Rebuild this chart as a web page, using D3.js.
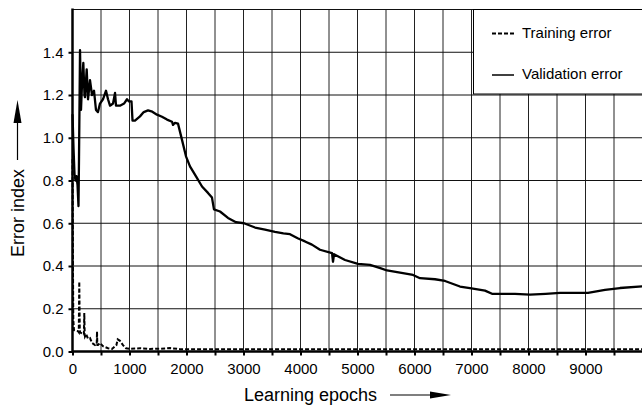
<!DOCTYPE html>
<html>
<head>
<meta charset="utf-8">
<script src="https://cdn.jsdelivr.net/npm/d3@7"></script>
<style>
  body { margin: 0; background: #fff; }
  svg { display: block; font-family: "Liberation Sans", Arial, sans-serif; }
</style>
</head>
<body>
<div class="chart"></div>
<script>
"use strict";

// validation error (solid line)
var valEpochs = [0, 18, 35, 53, 70, 88, 105, 114, 132, 149, 167, 190, 210, 219, 249, 272, 307, 342, 377, 412, 447, 482, 535, 588, 623, 658, 711, 746, 763, 833, 904, 956, 991, 1035, 1053, 1096, 1184, 1250, 1325, 1400, 1482, 1570, 1658, 1746, 1763, 1798, 1851, 1921, 1991, 2061, 2167, 2272, 2377, 2447, 2482, 2588, 2728, 2868, 3009, 3202, 3377, 3553, 3700, 3816, 3950, 4079, 4200, 4342, 4553, 4570, 4588, 4781, 5009, 5219, 5400, 5518, 5746, 5974, 6097, 6360, 6535, 6798, 7000, 7237, 7360, 7763, 8026, 8300, 8553, 9044, 9342, 9605, 10000];
var valError = [1.11, 0.95, 0.83, 0.80, 0.82, 0.78, 0.68, 0.90, 1.41, 1.13, 1.25, 1.35, 1.20, 1.19, 1.32, 1.18, 1.27, 1.20, 1.22, 1.13, 1.12, 1.16, 1.18, 1.22, 1.18, 1.15, 1.16, 1.21, 1.15, 1.15, 1.16, 1.18, 1.17, 1.17, 1.08, 1.08, 1.10, 1.12, 1.128, 1.122, 1.108, 1.098, 1.085, 1.075, 1.06, 1.07, 1.066, 0.99, 0.913, 0.866, 0.819, 0.772, 0.742, 0.72, 0.665, 0.655, 0.625, 0.605, 0.60, 0.58, 0.57, 0.56, 0.553, 0.549, 0.53, 0.515, 0.50, 0.476, 0.46, 0.42, 0.455, 0.428, 0.41, 0.405, 0.39, 0.379, 0.369, 0.358, 0.343, 0.338, 0.33, 0.304, 0.295, 0.285, 0.27, 0.27, 0.266, 0.27, 0.274, 0.274, 0.288, 0.297, 0.305];

// training error (dashed line)
var trainEpochs = [0, 8, 14, 26, 96, 110, 119, 128, 132, 167, 200, 207, 214, 219, 240, 272, 307, 342, 395, 425, 430, 436, 447, 482, 535, 623, 693, 770, 793, 833, 886, 939, 1009, 1184, 1360, 1535, 1711, 1886, 2500, 4000, 6000, 8000, 10000];
var trainError = [0.9, 0.4, 0.148, 0.10, 0.095, 0.09, 0.327, 0.10, 0.09, 0.085, 0.08, 0.18, 0.08, 0.07, 0.08, 0.06, 0.063, 0.04, 0.03, 0.035, 0.093, 0.03, 0.03, 0.04, 0.025, 0.015, 0.012, 0.03, 0.057, 0.05, 0.03, 0.015, 0.013, 0.015, 0.012, 0.013, 0.016, 0.011, 0.01, 0.01, 0.01, 0.01, 0.01];

var xTicks = [0, 500, 1000, 1500, 2000, 2500, 3000, 3500, 4000, 4500, 5000, 5500, 6000, 6500, 7000, 7500, 8000, 8500, 9000, 9500, 10000];
var xLabels = [0, 1000, 2000, 3000, 4000, 5000, 6000, 7000, 8000, 9000];
var yTicks = [0, 0.2, 0.4, 0.6, 0.8, 1.0, 1.2, 1.4];

var width = 642;
var height = 407;

var svg = d3.select('.chart')
            .append('svg')
            .attr('width', width)
            .attr('height', height);

var x = d3.scaleLinear().domain([0, 10000]).range([72.5, 642.5]);
var y = d3.scaleLinear().domain([0, 1.6]).range([351.5, 9.5]);

// grid
svg.append('g').selectAll('line')
   .data(xTicks.slice(1))
   .enter().append('line')
   .attr('x1', function(d){ return x(d) })
   .attr('x2', function(d){ return x(d) })
   .attr('y1', y(1.6))
   .attr('y2', y(0))
   .attr('stroke', '#222')
   .attr('stroke-width', 1);

svg.append('g').selectAll('line')
   .data(yTicks.slice(1).concat([1.6]))
   .enter().append('line')
   .attr('x1', x(0))
   .attr('x2', width)
   .attr('y1', function(d){ return y(d) })
   .attr('y2', function(d){ return y(d) })
   .attr('stroke', '#111')
   .attr('stroke-width', 1);

// lines
var line = d3.line()
             .x(function(d){ return x(d[0]) })
             .y(function(d){ return y(d[1]) });

svg.append('path')
   .datum(d3.zip(trainEpochs, trainError))
   .attr('d', line)
   .attr('fill', 'none')
   .attr('stroke', '#000')
   .attr('stroke-width', 2)
   .attr('stroke-dasharray', '4,2');

svg.append('path')
   .datum(d3.zip(valEpochs, valError))
   .attr('d', line)
   .attr('fill', 'none')
   .attr('stroke', '#000')
   .attr('stroke-width', 2.3)
   .attr('stroke-linejoin', 'round');

// axes
var xAxis = d3.axisBottom(x)
              .tickValues(xTicks)
              .tickSize(4)
              .tickFormat(function(d){ return xLabels.indexOf(d) >= 0 ? d : '' });

var gx = svg.append('g')
            .attr('transform', 'translate(0,' + y(0) + ')')
            .call(xAxis);
gx.select('.domain').remove();
gx.selectAll('.tick line').attr('stroke', '#000').attr('stroke-width', 2);
gx.selectAll('.tick text').attr('font-size', 15).attr('font-family', null).attr('fill', '#000').attr('dy', '1.0em');

var yAxis = d3.axisLeft(y)
              .tickValues(yTicks)
              .tickSize(4)
              .tickFormat(d3.format('.1f'));

var gy = svg.append('g')
            .attr('transform', 'translate(' + x(0) + ',0)')
            .call(yAxis);
gy.select('.domain').remove();
gy.selectAll('.tick line').attr('stroke', '#000').attr('stroke-width', 2);
gy.selectAll('.tick text').attr('font-size', 15).attr('font-family', null).attr('fill', '#000').attr('x', -9);

svg.append('line')
   .attr('x1', x(0)).attr('x2', width)
   .attr('y1', y(0)).attr('y2', y(0))
   .attr('stroke', '#000').attr('stroke-width', 2.5);

svg.append('line')
   .attr('x1', x(0)).attr('x2', x(0))
   .attr('y1', y(1.6) - 1).attr('y2', y(0) + 1)
   .attr('stroke', '#000').attr('stroke-width', 2.5);

// legend
var legend = svg.append('g');
legend.append('rect')
      .attr('x', 473.5).attr('y', 9.5)
      .attr('width', 172).attr('height', 84.5)
      .attr('fill', '#fff').attr('stroke', '#000').attr('stroke-width', 1);

legend.append('line')
      .attr('x1', 492).attr('x2', 514).attr('y1', 33.5).attr('y2', 33.5)
      .attr('stroke', '#000').attr('stroke-width', 2).attr('stroke-dasharray', '4,2');
legend.append('text')
      .attr('x', 522).attr('y', 38).attr('font-size', 15).text('Training error');

legend.append('line')
      .attr('x1', 492).attr('x2', 514).attr('y1', 75).attr('y2', 75)
      .attr('stroke', '#000').attr('stroke-width', 1.5);
legend.append('text')
      .attr('x', 522).attr('y', 79).attr('font-size', 15).text('Validation error');

// axis titles with arrows
svg.append('text')
   .attr('x', 244).attr('y', 401)
   .attr('font-size', 18)
   .text('Learning epochs');
svg.append('line')
   .attr('x1', 390).attr('x2', 432).attr('y1', 395).attr('y2', 395)
   .attr('stroke', '#000').attr('stroke-width', 1.2);
svg.append('path')
   .attr('d', 'M430,391.5 L451,395 L430,398.5 Z')
   .attr('fill', '#000');

svg.append('text')
   .attr('transform', 'translate(24,257) rotate(-90)')
   .attr('font-size', 18)
   .text('Error index');
svg.append('line')
   .attr('x1', 17.5).attr('x2', 17.5).attr('y1', 160).attr('y2', 120)
   .attr('stroke', '#000').attr('stroke-width', 1.2);
svg.append('path')
   .attr('d', 'M13.5,123 L17.5,100 L21.5,123 Z')
   .attr('fill', '#000');
</script>
</body>
</html>
